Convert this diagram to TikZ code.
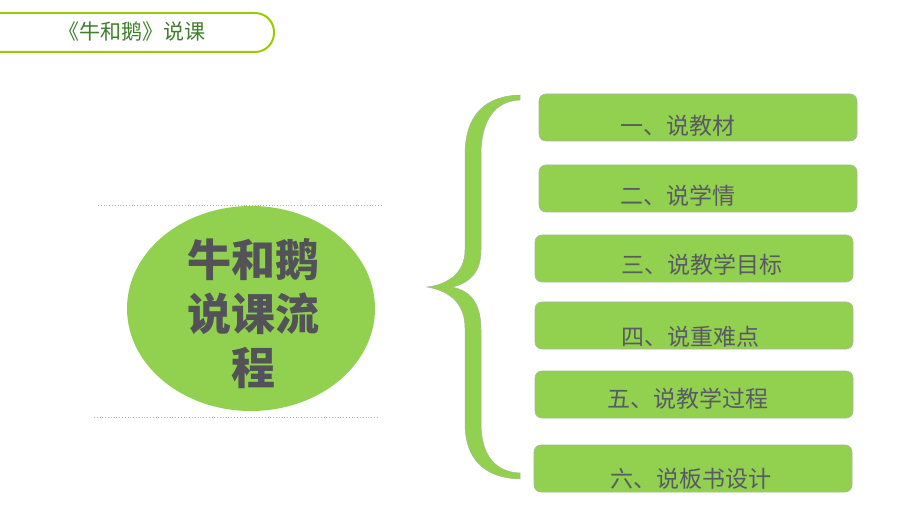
\documentclass[tikz,border=0pt]{standalone}
\usepackage{fontspec}
\newfontfamily\cjk{Noto Sans CJK SC}
\definecolor{lgreen}{HTML}{92D050}
\definecolor{hgreen}{HTML}{99CC00}
\definecolor{tgreen}{HTML}{3F7F2C}
\definecolor{tgray}{HTML}{5A5A62}
\definecolor{titlec}{HTML}{525258}
\definecolor{dotc}{HTML}{C4A8A8}
\definecolor{edgec}{HTML}{A8B898}
\tikzset{
  itembox/.style={fill=lgreen, draw=edgec, line width=0.6pt, rounded corners=7pt},
  itemtext/.style={font=\cjk\fontsize{23}{26}\selectfont, text=tgray, inner sep=0pt, anchor=center},
  titletext/.style={font=\cjk\bfseries\fontsize{44}{54}\selectfont, text=titlec, inner sep=0pt, align=center, anchor=center},
  dotline/.style={draw=dotc, line width=0.8pt, dotted}
}
\begin{document}
\begin{tikzpicture}[x=1pt,y=-1pt]
\useasboundingbox (0,0) rectangle (920,518);
\fill[white] (0,0) rectangle (920,518);
% header
\draw[hgreen, line width=2pt, rounded corners=19pt] (-30,13) rectangle (274,52);
\node[font=\cjk\fontsize{21}{24}\selectfont, text=tgreen, inner sep=0pt] (hdr) at (132,32) {《牛和鹅》说课};
% dotted lines
\coordinate (d1a) at (98,205); \coordinate (d1b) at (381,205);
\coordinate (d2a) at (94,417); \coordinate (d2b) at (377,417);
\draw[dotline] (d1a) -- (d1b);
\draw[dotline] (d2a) -- (d2b);
% ellipse
\fill[lgreen] (251,308.5) ellipse [x radius=124, y radius=102.5];
\node[titletext] (title) at (253,314) {牛和鹅\\说课流\\程};
% brace
\filldraw[fill=lgreen, draw=edgec, line width=0.5pt]
  (520,95) .. controls (485,96) and (465,115) .. (465,155)
  -- (465,250) .. controls (465,275) and (445,285) .. (427,287)
  .. controls (445,290) and (465,300) .. (465,328)
  -- (465,423) .. controls (465,460) and (485,478) .. (520,479)
  -- (520,473) .. controls (495,472) and (481,455) .. (481,423)
  -- (481,330) .. controls (481,302) and (470,291) .. (452,287)
  .. controls (470,283) and (481,272) .. (481,250)
  -- (481,155) .. controls (481,120) and (495,101) .. (520,100) -- cycle;
% boxes
\draw[itembox] (539,94) rectangle (857,141);
\draw[itembox] (539,165) rectangle (857,212);
\draw[itembox] (535,235) rectangle (853,282);
\draw[itembox] (535,302) rectangle (853,349);
\draw[itembox] (535,371) rectangle (853,418);
\draw[itembox] (534,445) rectangle (852,492);
\node[itemtext] (b1) at (678,126) {一、说教材};
\node[itemtext] (b2) at (678,196) {二、说学情};
\node[itemtext] (b3) at (702,265) {三、说教学目标};
\node[itemtext] (b4) at (690,337) {四、说重难点};
\node[itemtext] (b5) at (688,399) {五、说教学过程};
\node[itemtext] (b6) at (691,479) {六、说板书设计};
\end{tikzpicture}
\end{document}
